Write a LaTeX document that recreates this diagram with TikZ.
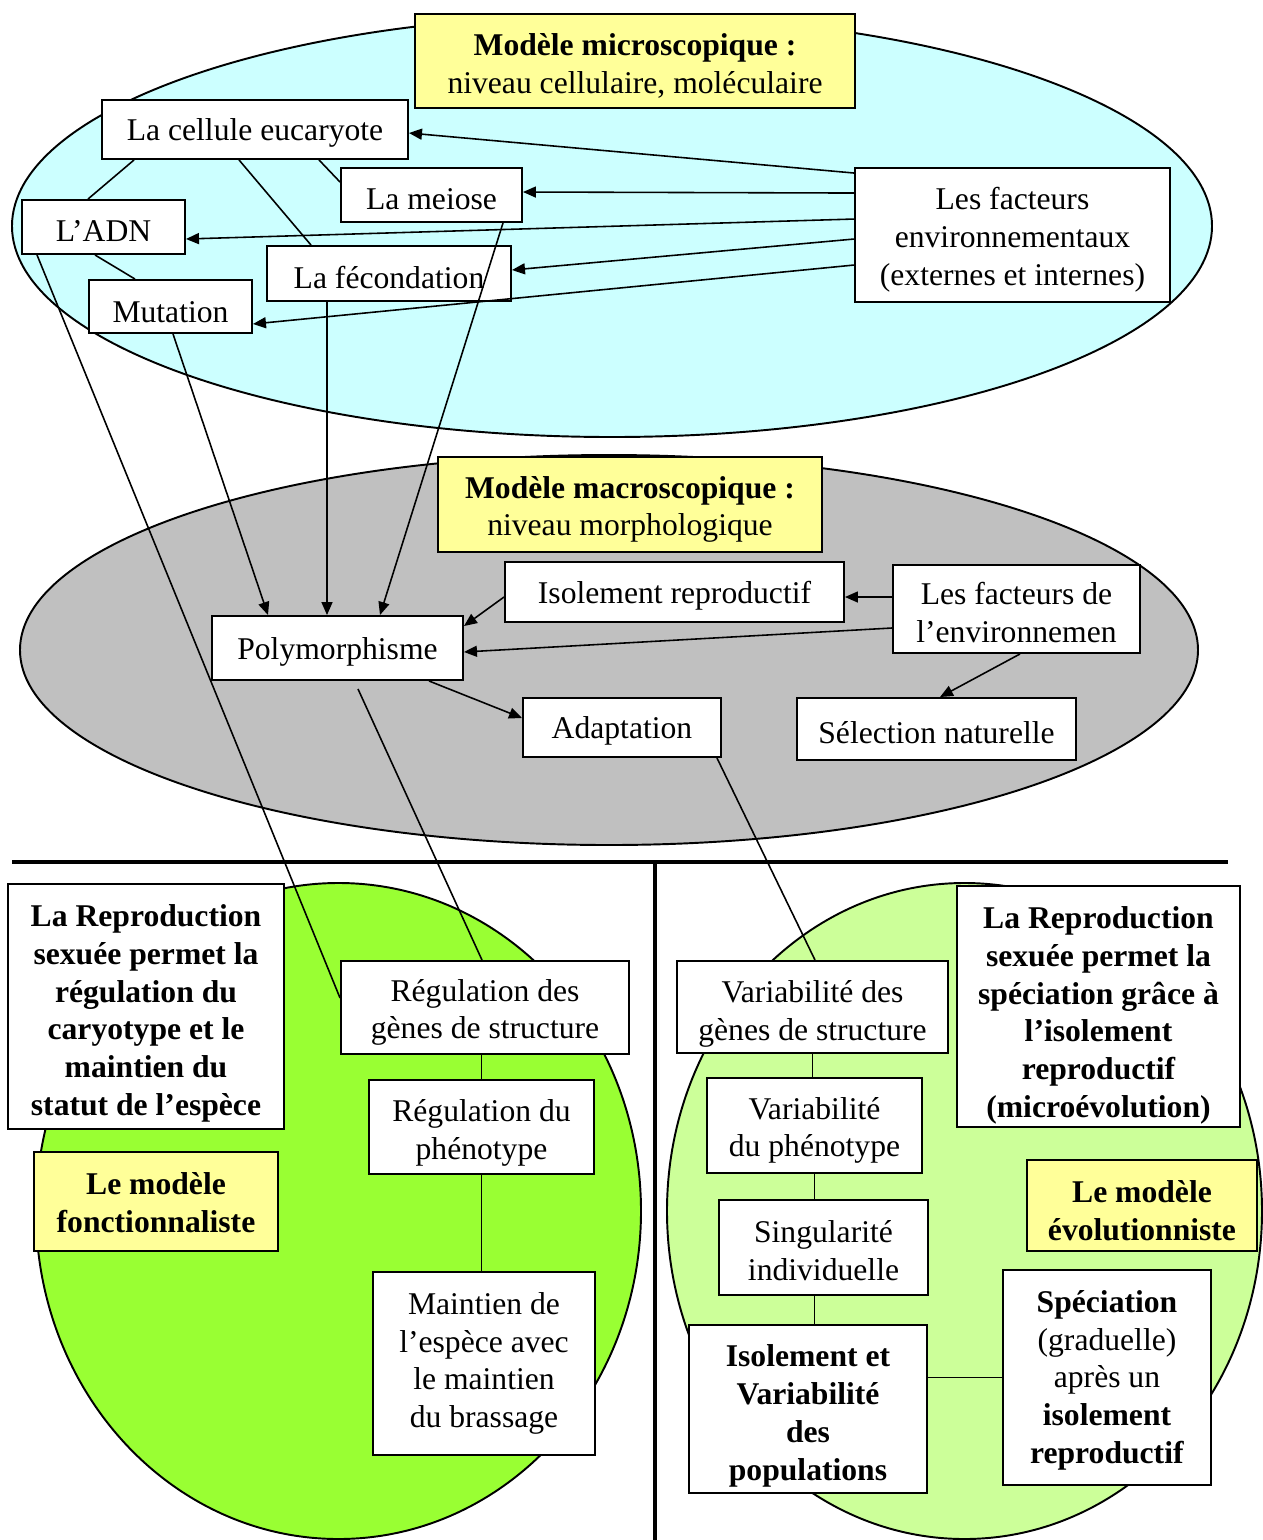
\documentclass[tikz,border=0pt]{standalone}
\usepackage{fontspec}
\setmainfont{Liberation Serif}
\usepackage{xcolor}
\usepackage{tikz}
\usetikzlibrary{arrows.meta}
\definecolor{microcyan}{HTML}{CCFFFF}
\definecolor{macrogray}{HTML}{C0C0C0}
\definecolor{fonctgreen}{HTML}{99FF33}
\definecolor{evolgreen}{HTML}{CCFF99}
\definecolor{titleyellow}{HTML}{FFFF99}

\begin{document}
\begin{tikzpicture}[
  x=0.2mm, y=-0.2mm,
  every node/.style={font=\fontsize{18pt}{21.5pt}\selectfont},
  textdrop/.style 2 args={execute at begin node={\rule{0pt}{\dimexpr12.3pt+21.5pt*\numexpr#1-1\relax+#2+#2\relax}}},
  nodebox/.style={draw, line width=1.1pt, fill=white, align=center, inner sep=0pt, textdrop={1}{0.8mm}},
  titlebox/.style={nodebox, fill=titleyellow},
  boldtext/.style={font=\fontsize{18pt}{21.5pt}\selectfont\bfseries},
  zone/.style={draw, line width=1.1pt},
  link/.style={line width=0.9pt},
  arrow/.style={link, -{Triangle[length=2.6mm,width=2.2mm]}},
  sep/.style={line width=2.8pt}
]
\useasboundingbox (0,0) rectangle (1263,1540);

\draw[zone, fill=microcyan] (612,226) ellipse [x radius=120mm, y radius=42.2mm];
\draw[zone, fill=macrogray] (609,650) ellipse [x radius=117.8mm, y radius=39mm];
\draw[zone, fill=fonctgreen] (338.5,1211) ellipse [x radius=60.5mm, y radius=65.6mm];
\draw[zone, fill=evolgreen] (964.5,1211) ellipse [x radius=59.5mm, y radius=65.6mm];
\draw[sep] (12,862) -- (1228,862);
\draw[sep] (655,862) -- (655,1540);

\node[titlebox, textdrop={2}{1mm}, minimum width=88mm, minimum height=18.8mm] (micro) at (635,61) {\textbf{Modèle microscopique :}\\niveau cellulaire, moléculaire};
\node[nodebox, minimum width=61.2mm, minimum height=11.8mm] (cellule) at (255,129.5) {La cellule eucaryote};
\node[nodebox, minimum width=36.2mm, minimum height=10.8mm] (meiose) at (431.5,195) {La meiose};
\node[nodebox, textdrop={1}{0.6mm}, minimum width=32.6mm, minimum height=10.8mm] (adn) at (103.5,227) {L’ADN};
\node[nodebox, minimum width=48.8mm, minimum height=11mm] (fecond) at (389,273.5) {La fécondation};
\node[nodebox, textdrop={1}{1mm}, minimum width=32.6mm, minimum height=10.6mm] (mutation) at (170.5,306.5) {Mutation};
\node[nodebox, textdrop={3}{1mm}, minimum width=63mm, minimum height=26.8mm] (facteurs) at (1012.5,235) {Les facteurs\\environnementaux\\(externes et internes)};

\node[titlebox, textdrop={2}{1mm}, minimum width=76.8mm, minimum height=19mm] (macro) at (630,504.5) {\textbf{Modèle macroscopique :}\\niveau morphologique};
\node[nodebox, minimum width=67.8mm, minimum height=12mm] (isolrep) at (674.5,592) {Isolement reproductif};
\node[nodebox, textdrop={2}{0.8mm}, minimum width=49.4mm, minimum height=17.6mm] (factenv) at (1016.5,609) {Les facteurs de\\l’environnemen};
\node[nodebox, textdrop={1}{0.6mm}, minimum width=50.2mm, minimum height=12.8mm] (poly) at (337.5,648) {Polymorphisme};
\node[nodebox, minimum width=39.6mm, minimum height=11.8mm] (adapt) at (622,727.5) {Adaptation};
\node[nodebox, textdrop={1}{0mm}, minimum width=55.8mm, minimum height=12.4mm] (selnat) at (936.5,729) {Sélection naturelle};

\node[nodebox, boldtext, textdrop={6}{1.4mm}, minimum width=55.2mm, minimum height=49mm] (reprodL) at (146,1006.5) {La Reproduction\\sexuée permet la\\régulation du\\caryotype et le\\maintien du\\statut de l’espèce};
\node[nodebox, textdrop={2}{1mm}, minimum width=57.6mm, minimum height=18.6mm] (reggenes) at (485,1007.5) {Régulation des\\gènes de structure};
\node[nodebox, textdrop={2}{1.2mm}, minimum width=45mm, minimum height=18.8mm] (regpheno) at (481.5,1127) {Régulation du\\phénotype};
\node[titlebox, boldtext, textdrop={2}{0.2mm}, minimum width=48.8mm, minimum height=19.8mm] (fonct) at (156,1201.5) {Le modèle\\fonctionnaliste};
\node[nodebox, textdrop={4}{0mm}, minimum width=44.4mm, minimum height=36.6mm] (maintien) at (484,1363.5) {Maintien de\\l’espèce avec\\le maintien\\du brassage};

\node[nodebox, textdrop={2}{1.4mm}, minimum width=54.2mm, minimum height=18.4mm] (vargenes) at (812.5,1007) {Variabilité des\\gènes de structure};
\node[nodebox, textdrop={2}{1mm}, minimum width=43mm, minimum height=19mm] (varpheno) at (814.5,1125.5) {Variabilité\\du phénotype};
\node[nodebox, textdrop={2}{0.6mm}, minimum width=41.8mm, minimum height=19mm] (singul) at (823.5,1247.5) {Singularité\\individuelle};
\node[nodebox, boldtext, textdrop={4}{1.4mm}, minimum width=47.6mm, minimum height=33.6mm] (isolvar) at (808,1409) {Isolement et\\Variabilité\\des\\populations};
\node[nodebox, boldtext, textdrop={6}{1.8mm}, minimum width=56.6mm, minimum height=48.2mm] (reprodR) at (1098.5,1006.5) {La Reproduction\\sexuée permet la\\spéciation grâce à\\l’isolement\\reproductif\\(microévolution)};
\node[titlebox, boldtext, textdrop={2}{1mm}, minimum width=46mm, minimum height=18.2mm] (evol) at (1142,1205.5) {Le modèle\\évolutionniste};
\node[nodebox, textdrop={5}{0.6mm}, minimum width=41.6mm, minimum height=43mm] (speciation) at (1107,1377.5) {\textbf{Spéciation}\\(graduelle)\\après un\\\textbf{isolement}\\\textbf{reproductif}};

\draw[arrow] ([yshift=-1.2mm]facteurs.north west) -- ([yshift=-0.7mm]cellule.east);
\draw[arrow] ([yshift=-5.2mm]facteurs.north west) -- ([yshift=0.6mm]meiose.east);
\draw[arrow] ([yshift=-10.4mm]facteurs.north west) -- ([yshift=-2.4mm]adn.east);
\draw[arrow] ([yshift=-14.4mm]facteurs.north west) -- ([yshift=0.7mm]fecond.east);
\draw[arrow] ([yshift=-19.6mm]facteurs.north west) -- ([yshift=-3.5mm]mutation.east);
\draw[link] ([xshift=6.6mm]cellule.south west) -- ([xshift=-3.1mm]adn.north);
\draw[link] ([xshift=27.6mm]cellule.south west) -- ([xshift=-15.6mm]fecond.north);
\draw[link] ([xshift=43.6mm]cellule.south west) -- ([yshift=-3mm]meiose.north west);
\draw[link] ([xshift=-1.7mm]adn.south) -- ([xshift=-7.1mm]mutation.north);

\draw[arrow] ([xshift=0.5mm]mutation.south) -- ([xshift=-13.9mm]poly.north);
\draw[arrow] ([xshift=-12.4mm]fecond.south) -- ([xshift=-2.1mm]poly.north);
\draw[arrow] ([xshift=14.3mm]meiose.south) -- ([xshift=8.5mm]poly.north);
\draw[arrow] ([yshift=-1mm]isolrep.west) -- ([yshift=-2.2mm]poly.north east);
\draw[arrow] ([yshift=2.4mm]factenv.west) -- ([yshift=-1mm]isolrep.east);
\draw[arrow] ([yshift=-3.8mm]factenv.west) -- ([yshift=-0.8mm]poly.east);
\draw[arrow] ([xshift=0.7mm]factenv.south) -- ([xshift=0.7mm]selnat.north);
\draw[arrow] ([xshift=-7mm]poly.south east) -- ([yshift=1.9mm]adapt.west);

\draw[link] ([xshift=3.2mm]adn.south west) -- ([yshift=1.9mm]reggenes.west);
\draw[link] ([xshift=4.1mm, yshift=-1.6mm]poly.south) -- ([xshift=-0.6mm]reggenes.north);
\draw[link] ([xshift=-1mm]adapt.south east) -- ([xshift=0.5mm]vargenes.north);

\draw[link] (regpheno.north |- reggenes.south) -- (regpheno.north);
\draw[link] (regpheno.south) -- (regpheno.south |- maintien.north);
\draw[link] (vargenes.south) -- (vargenes.south |- varpheno.north);
\draw[link] (varpheno.south) -- (varpheno.south |- singul.north);
\draw[link] (varpheno.south |- singul.south) -- (varpheno.south |- isolvar.north);
\draw[link] (isolvar.east |- speciation.west) -- (speciation.west);
\end{tikzpicture}
\end{document}
